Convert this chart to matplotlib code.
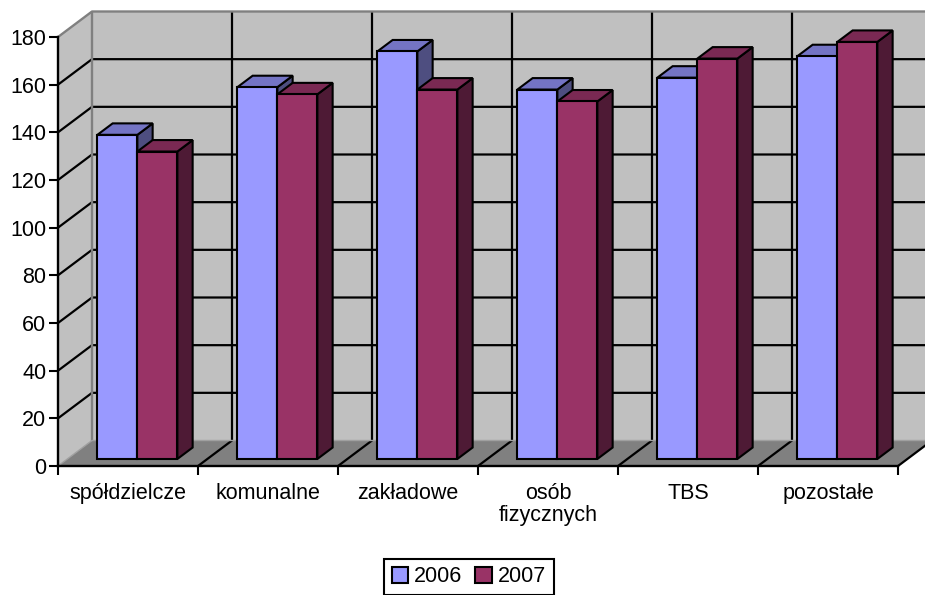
import matplotlib
matplotlib.use("Agg")
import matplotlib.pyplot as plt
from matplotlib.patches import Polygon, Patch

plt.rcParams['font.family'] = ['Liberation Sans', 'DejaVu Sans']

# data
categories = ["spółdzielcze", "komunalne", "zakładowe", "osób\nfizycznych", "TBS", "pozostałe"]
years = ["2006", "2007"]
values_2006 = [136, 156, 171, 155, 160, 169]
values_2007 = [129, 153, 155, 150, 168, 175]
yticks = [0, 20, 40, 60, 80, 100, 120, 140, 160, 180]

# colours: front, top, side
front_cols = ["#9999ff", "#993366"]
top_cols = ["#7474c4", "#7a2953"]
side_cols = ["#4e4e80", "#4e1a35"]
wall_col = "#c0c0c0"
floor_col = "#808080"
edge_col = "#808080"

W, H = 925, 595
fig = plt.figure(figsize=(W / 100, H / 100), dpi=100)
ax = fig.add_axes([58 / W, (H - 466) / H, 840 / W, 429 / H])
ax.set_xlim(0, 6)
ax.set_ylim(0, 180)
ax.patch.set_visible(False)

# depth vector of the box in data units
DX, DY = 34 / 140, 25.5 * 180 / 429
YMAX = yticks[-1]
n = len(categories)


def pt(x, y, d):
    return (x + d * DX, y + d * DY)


def poly(points, fc, z, ec="black", lw=1.5):
    ax.add_patch(Polygon(points, closed=True, facecolor=fc, edgecolor=ec,
                         linewidth=lw, zorder=z, clip_on=False, joinstyle="miter"))


def line(points, color="black", lw=1.6, z=1.5):
    xs = [p[0] for p in points]
    ys = [p[1] for p in points]
    ax.plot(xs, ys, color=color, lw=lw, zorder=z, clip_on=False, solid_capstyle="butt")


# walls and floor
poly([pt(0, 0, 1), pt(n, 0, 1), pt(n, YMAX, 1), pt(0, YMAX, 1)], wall_col, 0.5, ec="none")
poly([pt(0, 0, 0), pt(0, YMAX, 0), pt(0, YMAX, 1), pt(0, 0, 1)], wall_col, 0.6, ec="none")
poly([pt(0, 0, 0), pt(n, 0, 0), pt(n, 0, 1), pt(0, 0, 1)], floor_col, 0.7, ec="none")

# value gridlines on side and back walls
for v in yticks[1:-1]:
    line([pt(0, v, 0), pt(0, v, 1), pt(n, v, 1)])
# category gridlines on floor and back wall
for k in range(1, n + 1):
    line([pt(k, 0, 0), pt(k, 0, 1), pt(k, YMAX, 1)])

# wall edges
line([pt(0, YMAX, 0), pt(0, YMAX, 1), pt(n, YMAX, 1)], color=edge_col, lw=1.7, z=1.6)
line([pt(0, 0, 1), pt(0, YMAX, 1)], color=edge_col, lw=1.7, z=1.6)
line([pt(0, 0, 0), pt(0, 0, 1), pt(n, 0, 1)], color="#a0a0a0", lw=1.0, z=1.6)

# bars
d0, d1 = 0.275, 0.725
bw = 40 / 140
gap = 30 / 140
z = 3
for i in range(n):
    for j, vals in enumerate([values_2006, values_2007]):
        v = vals[i]
        xl = i + gap + j * bw
        xr = xl + bw
        poly([pt(xr, 0, d0), pt(xr, 0, d1), pt(xr, v, d1), pt(xr, v, d0)], side_cols[j], z)
        poly([pt(xl, v, d0), pt(xr, v, d0), pt(xr, v, d1), pt(xl, v, d1)], top_cols[j], z + 0.1)
        poly([pt(xl, 0, d0), pt(xr, 0, d0), pt(xr, v, d0), pt(xl, v, d0)], front_cols[j], z + 0.2)
        z += 1

# axes
for s in ["top", "right"]:
    ax.spines[s].set_visible(False)
for s in ["left", "bottom"]:
    ax.spines[s].set_linewidth(1.7)
    ax.spines[s].set_zorder(2)
ax.set_yticks(yticks)
ax.tick_params(axis="y", direction="out", length=6.5, width=1.5, pad=2, labelsize=15.5)
ax.set_xticks(range(n + 1))
ax.set_xticklabels([])
ax.tick_params(axis="x", which="major", direction="out", length=6.5, width=1.5)
ax.set_xticks([i + 0.5 for i in range(n)], minor=True)
ax.set_xticklabels(categories, minor=True, fontsize=15.5, linespacing=1.05)
ax.tick_params(axis="x", which="minor", length=0, pad=12.5)

handles = [Patch(facecolor=front_cols[j], edgecolor="black", linewidth=1.5, label=years[j])
           for j in range(2)]
leg = fig.legend(handles=handles, loc="center", bbox_to_anchor=(469 / W, 1 - 577 / H),
                 ncol=2, fontsize=15.5, frameon=True, fancybox=False, framealpha=1,
                 edgecolor="black", borderpad=0.35, handlelength=0.75, handleheight=0.75,
                 handletextpad=0.3, columnspacing=0.6, borderaxespad=0)
leg.get_frame().set_linewidth(1.5)

fig.savefig("out.png", dpi=100)
